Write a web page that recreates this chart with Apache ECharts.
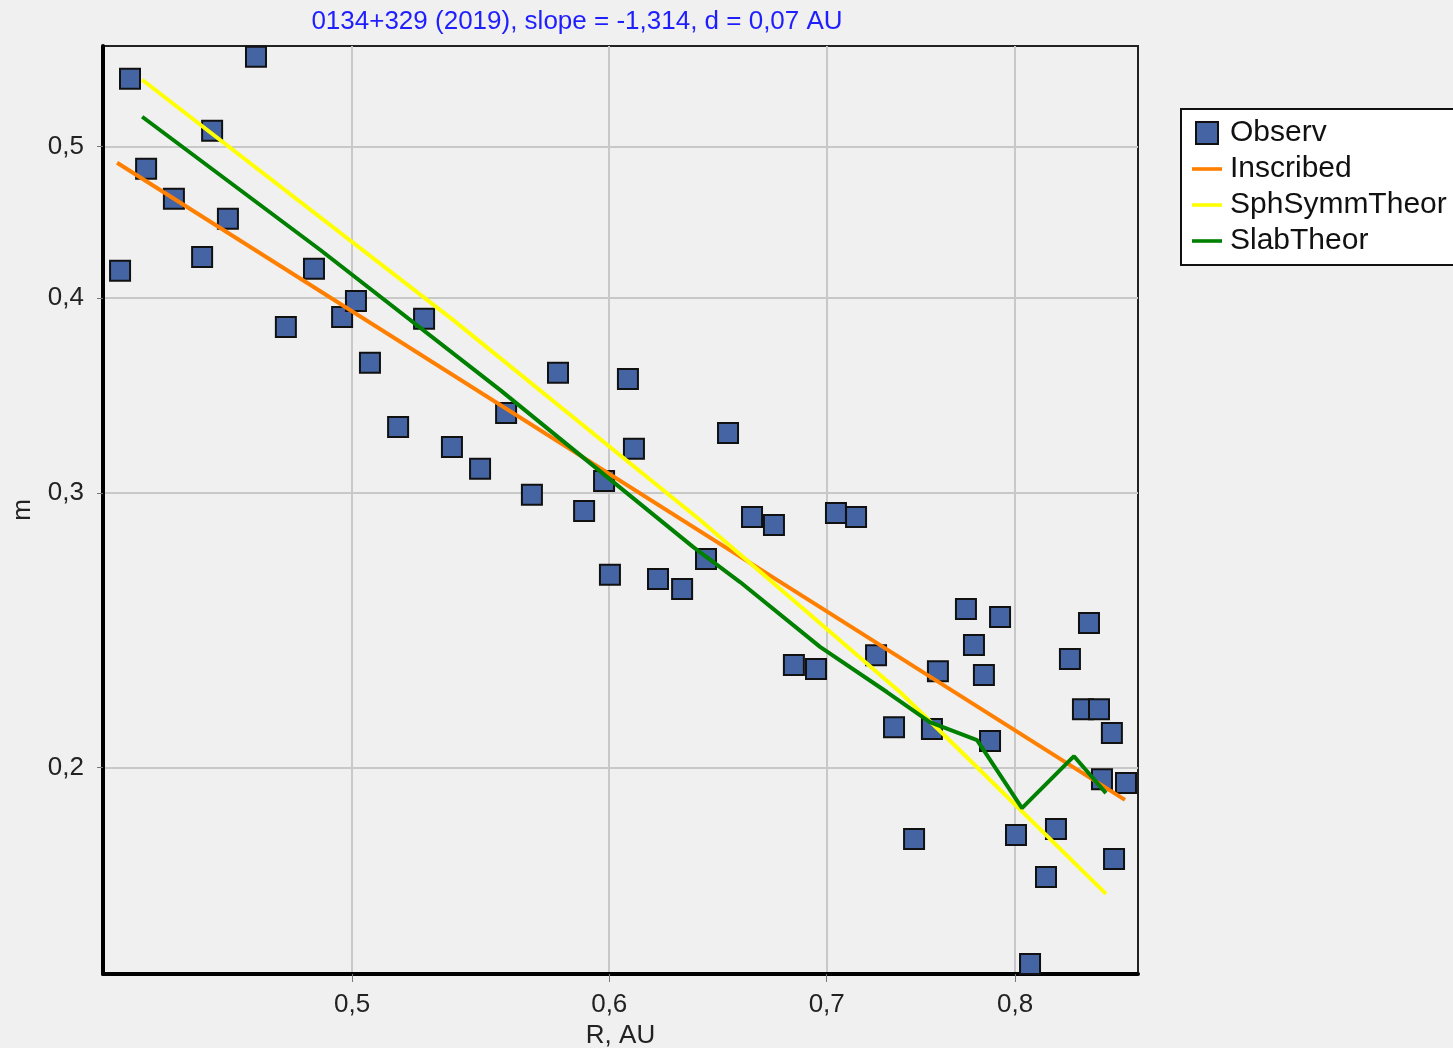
<!DOCTYPE html>
<html><head><meta charset="utf-8">
<script src="https://cdn.jsdelivr.net/npm/echarts@6/dist/echarts.min.js"></script>
<style>html,body{margin:0;padding:0;background:#f0f0f0;overflow:hidden;} #c{width:1453px;height:1048px;}</style>
</head><body><div id="c"></div>
<script>
// Observed points: R (AU) and m
const obsR = [0.4242,0.4272,0.4321,0.4407,0.4496,0.4528,0.4579,0.4671,0.4771,0.4867,
  0.4965,0.5014,0.5064,0.5166,0.5262,0.5367,0.5475,0.5577,0.5680,0.5786,
  0.5894,0.5978,0.6003,0.6080,0.6106,0.6211,0.6318,0.6426,0.6527,0.6639,
  0.6743,0.6839,0.6947,0.7046,0.7147,0.7249,0.7342,0.7447,0.7542,0.7574,
  0.7726,0.7770,0.7825,0.7859,0.7915,0.8005,0.8085,0.8177,0.8235,0.8317,
  0.8394,0.8430,0.8490,0.8508,0.8568,0.8581,0.8654];
const obsM = [0.4163,0.5526,0.4839,0.4629,0.4249,0.5118,0.4495,0.5709,0.3832,0.4175,
  0.3889,0.3982,0.3634,0.3306,0.3878,0.3210,0.3108,0.3375,0.2991,0.3581,
  0.2921,0.3053,0.2658,0.3549,0.3201,0.2642,0.2603,0.2721,0.3277,0.2895,
  0.2861,0.2327,0.2313,0.2912,0.2895,0.2361,0.2123,0.1800,0.2117,0.2306,
  0.2527,0.2397,0.2293,0.2080,0.2498,0.1811,0.1497,0.1702,0.1827,0.2348,
  0.2180,0.2476,0.2180,0.1966,0.2105,0.1748,0.1955];
// Fitted / theoretical curves
const inscribedR = [0.4233, 0.8648];
const inscribedM = [0.4882, 0.1907];
const sphR = [0.4309, 0.5371, 0.6399, 0.7373, 0.7748, 0.8532];
const sphM = [0.5518, 0.3872, 0.2882, 0.2236, 0.2022, 0.1660];
const slabR = [0.4309,0.4888,0.5553,0.6367,0.6583,0.6967,0.7305,0.7531,0.7787,0.8039,0.8341,0.8532];
const slabM = [0.5225,0.4294,0.3492,0.2770,0.2630,0.2390,0.2236,0.2139,0.2083,0.1884,0.2034,0.1926];
// Axis ticks
const xTicks = [0.5, 0.6, 0.7, 0.8];
const yTicks = [0.2, 0.3, 0.4, 0.5];
const titleText = '0134+329 (2019), slope = -1,314, d = 0,07 AU';

const zip = (a, b) => a.map((v, i) => [v, b[i]]);
const fmt = v => (Math.round(v * 10) / 10).toFixed(1).replace('.', ',');
const FONT = '"Liberation Sans", Arial, sans-serif';

const chart = echarts.init(document.getElementById('c'), null, {renderer: 'canvas'});
chart.setOption({
  animation: false,
  backgroundColor: '#f0f0f0',
  textStyle: {fontFamily: FONT},
  title: {
    text: titleText, left: 572, top: 4, textAlign: 'center',
    textStyle: {color: '#1e1eff', fontSize: 26, fontWeight: 'normal', fontFamily: FONT}
  },
  legend: {
    orient: 'vertical', left: 1181, top: 109,
    backgroundColor: '#ffffff', borderColor: '#111', borderWidth: 2,
    padding: [9, 60, 9, 11],
    itemWidth: 30, itemHeight: 22, itemGap: 6,
    textStyle: {fontSize: 30, color: '#111', fontFamily: FONT, lineHeight: 30, padding: [0, 0, 0, 3]},
    data: [
      {name: 'Observ', icon: 'path://M0,0H10V10H0Z'},
      {name: 'Inscribed', icon: 'path://M0,0H10V1.2H0Z', itemStyle: {borderWidth: 0}},
      {name: 'SphSymmTheor', icon: 'path://M0,0H10V1.2H0Z', itemStyle: {borderWidth: 0}},
      {name: 'SlabTheor', icon: 'path://M0,0H10V1.2H0Z', itemStyle: {borderWidth: 0}}
    ]
  },
  grid: {
    left: 103, right: 315, top: 46, bottom: 74,
    show: true, borderColor: '#222', borderWidth: 2, backgroundColor: 'transparent',
    containLabel: false, outerBoundsMode: 'none'
  },
  xAxis: {
    type: 'log', logBase: 10, min: 0.4191, max: 0.8728,
    name: 'R, AU', nameLocation: 'middle', nameGap: 46,
    nameTextStyle: {fontSize: 26, color: '#222', fontFamily: FONT},
    axisLine: {show: true, onZero: false, lineStyle: {color: '#000', width: 4}},
    axisTick: {show: true, customValues: xTicks, length: 8, lineStyle: {color: '#777', width: 1}},
    axisLabel: {customValues: xTicks, formatter: v => fmt(v), fontSize: 26, color: '#222', margin: 18, fontFamily: FONT},
    splitLine: {show: true, lineStyle: {color: '#c8c8c8', width: 2}},
    minorTick: {show: false}, minorSplitLine: {show: false}
  },
  yAxis: {
    type: 'log', logBase: 10, min: 0.1475, max: 0.58,
    name: 'm', nameLocation: 'middle', nameGap: 67, nameRotate: 90,
    nameTextStyle: {fontSize: 26, color: '#222', fontFamily: FONT},
    axisLine: {show: true, onZero: false, lineStyle: {color: '#000', width: 4}},
    axisTick: {show: true, customValues: yTicks, length: 6, lineStyle: {color: '#777', width: 1}},
    axisLabel: {customValues: yTicks, formatter: v => fmt(v), fontSize: 26, color: '#222', margin: 19, fontFamily: FONT},
    splitLine: {show: true, lineStyle: {color: '#c8c8c8', width: 2}},
    minorTick: {show: false}, minorSplitLine: {show: false}
  },
  series: [
    {
      name: 'Observ', type: 'scatter', data: zip(obsR, obsM),
      symbol: 'rect', symbolSize: 20,
      itemStyle: {color: '#4464a4', borderColor: '#111', borderWidth: 2, opacity: 1},
      z: 2
    },
    {
      name: 'Inscribed', type: 'line', data: zip(inscribedR, inscribedM),
      showSymbol: false, symbol: 'none',
      itemStyle: {color: '#ff7f00'}, lineStyle: {color: '#ff7f00', width: 4}, z: 3
    },
    {
      name: 'SphSymmTheor', type: 'line', data: zip(sphR, sphM),
      showSymbol: false, symbol: 'none',
      itemStyle: {color: '#ffff00'}, lineStyle: {color: '#ffff00', width: 4}, z: 3
    },
    {
      name: 'SlabTheor', type: 'line', data: zip(slabR, slabM),
      showSymbol: false, symbol: 'none',
      itemStyle: {color: '#008000'}, lineStyle: {color: '#008000', width: 4}, z: 3
    }
  ]
});
</script></body></html>
